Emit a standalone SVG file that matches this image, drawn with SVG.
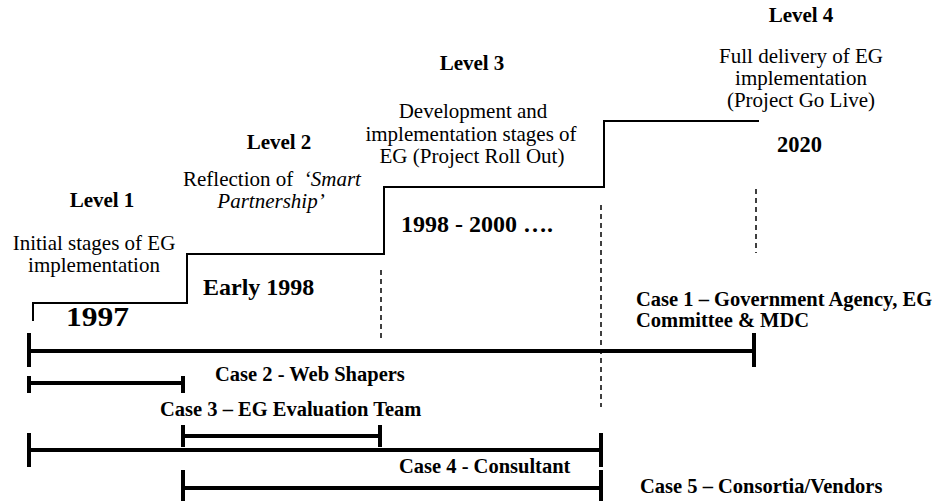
<svg xmlns="http://www.w3.org/2000/svg" width="946" height="501" viewBox="0 0 946 501">
<style>
text{font-family:"Liberation Serif","Times New Roman",serif;fill:#000}
.r{font-size:21px}
.b{font-size:21px;font-weight:bold}
.yr{font-size:24px;font-weight:bold}
.c{font-size:20.5px;font-weight:bold}
.m{text-anchor:middle}
.i{font-style:italic}
.bar{stroke:#000;stroke-width:4;fill:none}
.step{stroke:#000;stroke-width:2;fill:none}
.dash{stroke:#000;stroke-width:1.5;stroke-dasharray:5 4;fill:none}
</style>
<rect width="946" height="501" fill="#fff"/>
<g id="connectors">
<polyline class="step" points="33,321 33,303 187,303 187,254 384,254 384,187 604,187 604,121 759,121"/>
<line class="dash" x1="381" y1="270" x2="381" y2="340"/>
<line class="dash" x1="601" y1="205" x2="601" y2="407"/>
<line class="dash" x1="756" y1="189" x2="756" y2="253"/>
</g>
<g id="level1">
<text class="b m" x="102" y="207">Level 1</text>
<text class="r m" x="94" y="250">Initial stages of EG</text>
<text class="r m" x="94" y="272">implementation</text>
<text class="yr" x="66" y="326" style="font-size:28px" textLength="63" lengthAdjust="spacingAndGlyphs">1997</text>
</g>
<g id="level2">
<text class="b m" x="279" y="149">Level 2</text>
<text class="r m" x="272" y="186" xml:space="preserve">Reflection of  <tspan class="i">‘Smart</tspan></text>
<text class="r m i" x="271" y="208">Partnership’</text>
<text class="yr" x="203" y="295">Early 1998</text>
</g>
<g id="level3">
<text class="b m" x="472" y="70">Level 3</text>
<text class="r m" x="473" y="118">Development and</text>
<text class="r m" x="471" y="141">implementation stages of</text>
<text class="r m" x="472" y="163">EG (Project Roll Out)</text>
<text class="yr" x="401" y="232">1998 - 2000 ….</text>
</g>
<g id="level4">
<text class="b m" x="801" y="22">Level 4</text>
<text class="r m" x="801" y="63">Full delivery of EG</text>
<text class="r m" x="801" y="85">implementation</text>
<text class="r m" x="801" y="107">(Project Go Live)</text>
<text class="yr" x="777" y="152" style="font-size:22.5px">2020</text>
</g>
<g id="case1">
<path class="bar" d="M29,351 H754 M29,333 V367 M754,333 V367"/>
<text class="c" x="636" y="306">Case 1 – Government Agency, EG</text>
<text class="c" x="636" y="327">Committee &amp; MDC</text>
</g>
<g id="case2">
<path class="bar" d="M29,383 H183 M29,376 V393 M183,376 V393"/>
<text class="c" x="215" y="381">Case 2 - Web Shapers</text>
</g>
<g id="case3">
<path class="bar" d="M183,436 H380 M183,425 V447 M380,425 V447"/>
<text class="c" x="160" y="416">Case 3 – EG Evaluation Team</text>
</g>
<g id="case4">
<path class="bar" d="M29,450 H601 M29,433 V467 M601,433 V467"/>
<text class="c" x="399" y="473">Case 4 - Consultant</text>
</g>
<g id="case5">
<path class="bar" d="M183,488 H601 M183,470 V501 M601,470 V501"/>
<text class="c" x="640" y="493">Case 5 – Consortia/Vendors</text>
</g>
</svg>
